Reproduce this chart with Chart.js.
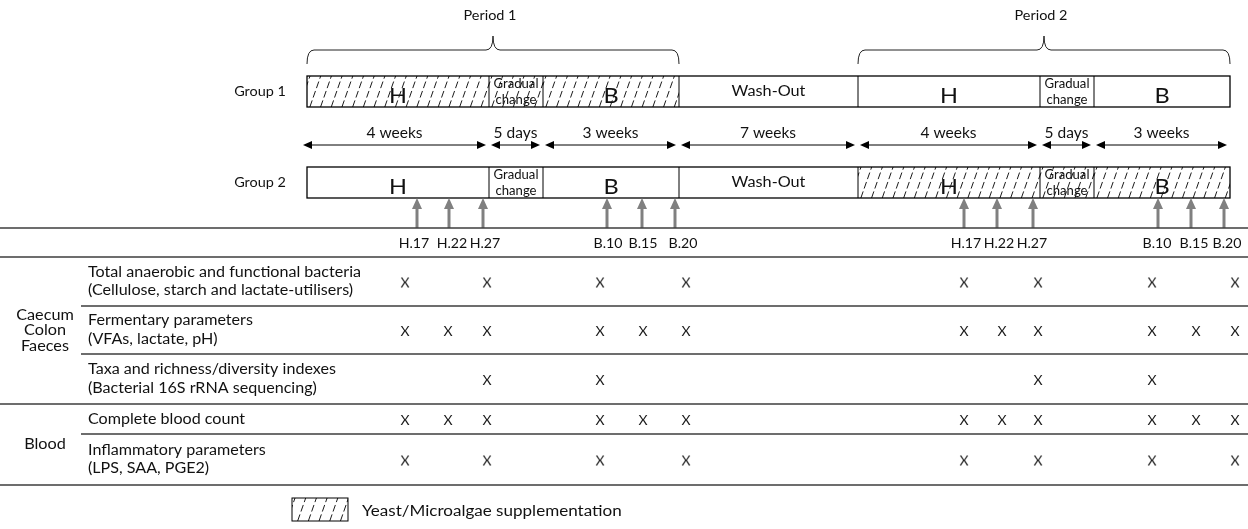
<!DOCTYPE html>
<html>
<head>
<meta charset="utf-8">
<script src="https://cdn.jsdelivr.net/npm/chart.js@4.4.1/dist/chart.umd.min.js"></script>
<style>
  body { margin: 0; background: #fff; }
  #wrap { width: 1248px; height: 529px; }
</style>
</head>
<body>
<div id="wrap"><canvas id="design"></canvas></div>
<script>
// ---- data ----
const periodLabels = ['Period 1', 'Period 2'];
const groupLabels = ['Group 1', 'Group 2'];
const phaseLabels = ['H', 'Gradual change', 'B', 'Wash-Out', 'H', 'Gradual change', 'B'];
const durationLabels = ['4 weeks', '5 days', '3 weeks', '7 weeks', '4 weeks', '5 days', '3 weeks'];
// schematic x position of each phase boundary (diagram is not drawn to time scale)
const phaseEdges = [307, 489, 543, 679, 858, 1040, 1094, 1230];
// phases on yeast/microalgae supplementation, per group
const supplemented = [[0, 1, 2], [4, 5, 6]];
// which phases each period spans
const periodPhases = [[0, 2], [4, 6]];

const sampleLabels = ['H.17', 'H.22', 'H.27', 'B.10', 'B.15', 'B.20'];
const sampleArrowX = [[417, 449, 483, 607, 642, 675], [964, 997, 1033, 1158, 1191, 1224]];
const sampleLabelX = [[414, 452, 485, 608, 643, 683], [966, 999, 1032, 1157, 1194, 1227]];
const sampleColX = [[405, 448, 487, 600, 643, 686], [964, 1002, 1038, 1152, 1196, 1235]];

const sites = [['Caecum', 'Colon', 'Faeces'], ['Blood']];
const siteRows = [[0, 1, 2], [3, 4]];
const measures = [
  ['Total anaerobic and functional bacteria', '(Cellulose, starch and lactate-utilisers)'],
  ['Fermentary parameters', '(VFAs, lactate, pH)'],
  ['Taxa and richness/diversity indexes', '(Bacterial 16S rRNA sequencing)'],
  ['Complete blood count'],
  ['Inflammatory parameters', '(LPS, SAA, PGE2)']
];
// 1 = sampled at H.17, H.22, H.27, B.10, B.15, B.20 (same in both periods)
const sampled = [
  [1, 0, 1, 1, 0, 1],
  [1, 1, 1, 1, 1, 1],
  [0, 0, 1, 1, 0, 0],
  [1, 1, 1, 1, 1, 1],
  [1, 0, 1, 1, 0, 1]
];
const legendLabel = 'Yeast/Microalgae supplementation';

// ---- layout (schematic units, y downwards) ----
const groupRowY = [[76, 107], [167, 198]];
const rowEdges = [257, 306, 354, 404, 434, 485];
const FONT = 'Lato, "Open Sans", sans-serif';
const INK = '#111';

// X marks as a scatter dataset
const markPoints = [];
measures.forEach((m, r) => {
  sampleColX.forEach(cols => {
    cols.forEach((x, s) => {
      if (sampled[r][s]) markPoints.push({ x: x, y: (rowEdges[r] + rowEdges[r + 1]) / 2 + 1 });
    });
  });
});

function txt(ctx, s, x, y, size, align, base, stretch) {
  ctx.save();
  ctx.font = size + 'px ' + FONT;
  ctx.textAlign = align || 'center';
  ctx.textBaseline = base || 'middle';
  ctx.translate(x, y);
  ctx.scale(stretch || 1.07, 1);
  ctx.fillText(s, 0, 0);
  ctx.restore();
}

// glyph used as point style for the "X" marks
const xGlyph = document.createElement('canvas');
xGlyph.width = 14;
xGlyph.height = 16;
(() => {
  const g = xGlyph.getContext('2d');
  g.fillStyle = '#1a1a1a';
  txt(g, 'X', 7, 8.5, 14, 'center', 'middle', 1.0);
})();

function hatch(ctx, x0, y0, x1, y1) {
  ctx.save();
  ctx.beginPath();
  ctx.rect(x0, y0, x1 - x0, y1 - y0);
  ctx.clip();
  ctx.strokeStyle = '#000';
  ctx.lineWidth = 0.9;
  ctx.setLineDash([7, 3]);
  const h = y1 - y0;
  for (let x = x0 - h * 0.35 + 3; x < x1 + 2; x += 10.7) {
    ctx.beginPath();
    ctx.moveTo(x, y1);
    ctx.lineTo(x + h * 0.35, y0);
    ctx.stroke();
  }
  ctx.restore();
}

function arrowHead(ctx, x, y, dir, len, half) {
  ctx.beginPath();
  ctx.moveTo(x, y);
  ctx.lineTo(x - dir * len, y - half);
  ctx.lineTo(x - dir * len, y + half);
  ctx.closePath();
  ctx.fill();
}

function brace(ctx, x0, x1, xm, yTip, yMid, yEnd) {
  const r = 7;
  ctx.beginPath();
  ctx.moveTo(x0, yEnd);
  ctx.quadraticCurveTo(x0, yMid, x0 + r, yMid);
  ctx.lineTo(xm - r, yMid);
  ctx.quadraticCurveTo(xm, yMid, xm, yTip);
  ctx.quadraticCurveTo(xm, yMid, xm + r, yMid);
  ctx.lineTo(x1 - r, yMid);
  ctx.quadraticCurveTo(x1, yMid, x1, yEnd);
  ctx.stroke();
}

const designPlugin = {
  id: 'design',
  beforeDatasetsDraw(chart) {
    const ctx = chart.ctx;
    const sx = v => chart.scales.x.getPixelForValue(v);
    const sy = v => chart.scales.y.getPixelForValue(v);
    ctx.save();
    ctx.fillStyle = INK;
    ctx.strokeStyle = INK;

    // period braces
    periodLabels.forEach((p, i) => {
      const a = phaseEdges[periodPhases[i][0]], b = phaseEdges[periodPhases[i][1] + 1];
      const m = (a + b) / 2;
      ctx.lineWidth = 1;
      ctx.strokeStyle = '#222';
      brace(ctx, sx(a), sx(b), sx(m), sy(36), sy(50), sy(64));
      ctx.fillStyle = INK;
      txt(ctx, p, sx(m - 3), sy(16), 13.5);
    });

    // group rows
    groupLabels.forEach((g, gi) => {
      const [t, btm] = groupRowY[gi];
      ctx.fillStyle = INK;
      txt(ctx, g, sx(286), sy((t + btm) / 2), 13.5, 'right');
      phaseLabels.forEach((ph, k) => {
        const a = phaseEdges[k], b = phaseEdges[k + 1];
        if (supplemented[gi].includes(k)) hatch(ctx, sx(a), sy(t), sx(b), sy(btm));
        ctx.fillStyle = INK;
        const cx = sx((a + b) / 2);
        if (ph === 'Gradual change') {
          txt(ctx, 'Gradual', cx, sy(t + 8), 12.5, 'center', 'middle', 1.05);
          txt(ctx, 'change', cx, sy(t + 24), 12.5, 'center', 'middle', 1.05);
        } else if (ph.length === 1) {
          txt(ctx, ph, cx, sy(btm - 4), 21, 'center', 'alphabetic', 1.12);
        } else {
          txt(ctx, ph, cx, sy((t + btm) / 2), 14.5, 'center', 'middle', 1.12);
        }
      });
      ctx.lineWidth = 1.3;
      ctx.strokeStyle = '#000';
      ctx.strokeRect(sx(phaseEdges[0]), sy(t), sx(phaseEdges[phaseEdges.length - 1]) - sx(phaseEdges[0]), sy(btm) - sy(t));
      ctx.beginPath();
      phaseEdges.slice(1, -1).forEach(e => {
        ctx.moveTo(sx(e), sy(t));
        ctx.lineTo(sx(e), sy(btm));
      });
      ctx.lineWidth = 1;
      ctx.stroke();
    });

    // duration arrows
    durationLabels.forEach((d, k) => {
      const a = sx(phaseEdges[k] + (k === 0 ? -4 : 2)), b = sx(phaseEdges[k + 1] - 3);
      const y = sy(145);
      ctx.fillStyle = '#000';
      ctx.strokeStyle = '#000';
      ctx.lineWidth = 1;
      ctx.beginPath();
      ctx.moveTo(a + 4, y);
      ctx.lineTo(b - 4, y);
      ctx.stroke();
      arrowHead(ctx, a, y, -1, 9, 4);
      arrowHead(ctx, b, y, 1, 9, 4);
      ctx.fillStyle = INK;
      txt(ctx, d, (a + b) / 2, sy(133), 14.5);
    });

    // sampling arrows and labels
    sampleArrowX.forEach((xs, pi) => {
      xs.forEach((x, s) => {
        const px = sx(x);
        ctx.strokeStyle = '#808080';
        ctx.fillStyle = '#808080';
        ctx.lineWidth = 3;
        ctx.beginPath();
        ctx.moveTo(px, sy(228));
        ctx.lineTo(px, sy(208));
        ctx.stroke();
        ctx.beginPath();
        ctx.moveTo(px, sy(198));
        ctx.lineTo(px - 5, sy(209));
        ctx.lineTo(px + 5, sy(209));
        ctx.closePath();
        ctx.fill();
        ctx.fillStyle = INK;
        txt(ctx, sampleLabels[s], sx(sampleLabelX[pi][s]), sy(244), 13.5, 'center', 'middle', 1.05);
      });
    });

    // table rules
    ctx.strokeStyle = '#3c3c3c';
    ctx.lineWidth = 1.5;
    const rule = (x0, y) => {
      ctx.beginPath();
      ctx.moveTo(sx(x0), sy(y));
      ctx.lineTo(sx(1248), sy(y));
      ctx.stroke();
    };
    rule(0, 228);
    rowEdges.forEach((y, i) => {
      const full = i === 0 || i === rowEdges.length - 1 || siteRows.some(r => r[0] === i);
      rule(full ? 0 : 81, y);
    });

    // site labels and measure names
    ctx.fillStyle = INK;
    sites.forEach((lines, si) => {
      const rows = siteRows[si];
      const cy = (rowEdges[rows[0]] + rowEdges[rows[rows.length - 1] + 1]) / 2;
      lines.forEach((l, j) => {
        txt(ctx, l, sx(45), sy(cy + (j - (lines.length - 1) / 2) * 15.5), 14.5, 'center', 'middle', 1.12);
      });
    });
    measures.forEach((lines, r) => {
      const cy = (rowEdges[r] + rowEdges[r + 1]) / 2;
      lines.forEach((l, j) => {
        txt(ctx, l, sx(88), sy(cy + (j - (lines.length - 1) / 2) * 18.5), 14.5, 'left', 'middle', 1.11);
      });
    });

    // legend
    hatch(ctx, sx(292), sy(498), sx(348), sy(521));
    ctx.strokeStyle = '#000';
    ctx.lineWidth = 1;
    ctx.strokeRect(sx(292), sy(498), sx(348) - sx(292), sy(521) - sy(498));
    ctx.fillStyle = INK;
    txt(ctx, legendLabel, sx(362), sy(511), 15.5, 'left', 'middle', 1.1);

    ctx.restore();
  }
};

new Chart(document.getElementById('design'), {
  type: 'scatter',
  data: {
    datasets: [{
      label: 'sampled',
      data: markPoints,
      pointStyle: xGlyph,
      pointRadius: 5,
      borderWidth: 0
    }]
  },
  options: {
    responsive: true,
    maintainAspectRatio: false,
    animation: false,
    layout: { padding: 0, autoPadding: false },
    scales: {
      x: { type: 'linear', min: 0, max: 1248, display: false },
      y: { type: 'linear', min: 0, max: 529, reverse: true, display: false }
    },
    plugins: {
      legend: { display: false },
      tooltip: { enabled: false }
    }
  },
  plugins: [designPlugin]
});
</script>
</body>
</html>
